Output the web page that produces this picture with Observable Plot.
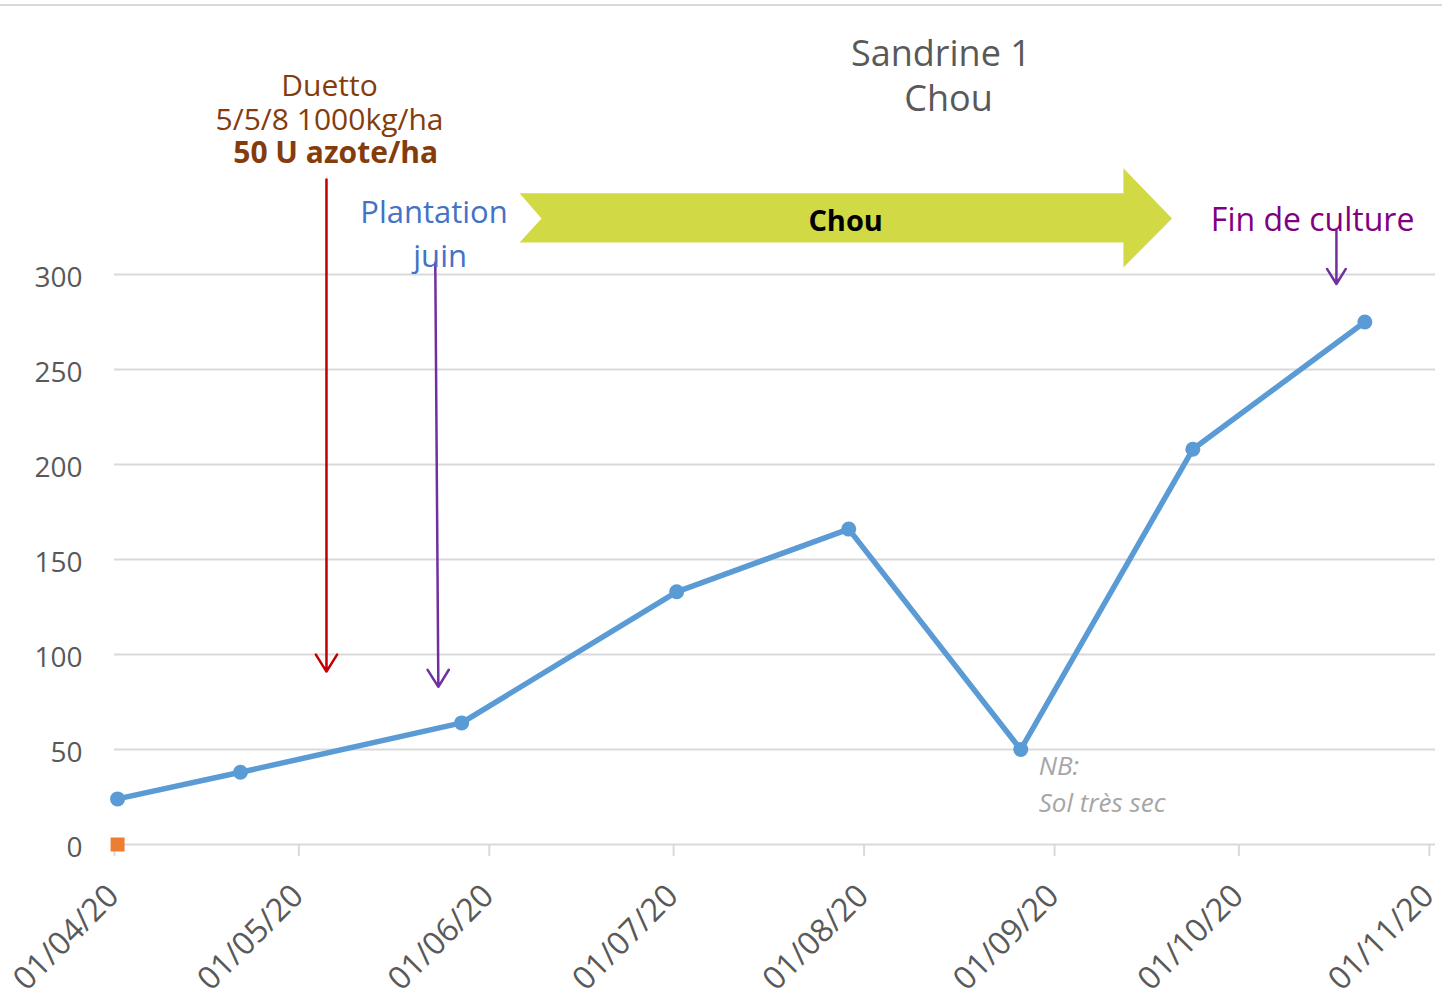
<!DOCTYPE html>
<html><head><meta charset="utf-8">
<script src="https://cdn.jsdelivr.net/npm/d3@7"></script>
<script src="https://cdn.jsdelivr.net/npm/@observablehq/plot@0.6"></script>
<style>
body{margin:0;background:#fff;font-family:"Open Sans",sans-serif;}
#wrap{position:relative;width:1442px;height:1002px;overflow:hidden;}
#topline{position:absolute;left:0;top:4px;width:1442px;height:2px;background:#d9d9d9;}
#chart{position:absolute;left:0;top:0;}
</style></head><body>
<div id="wrap"><div id="topline"></div><div id="chart"></div></div>
<script>
// Series 1 (blue line with dots)
const sampleDates = ["2020-04-01","2020-04-21","2020-05-27","2020-07-01","2020-07-29","2020-08-26","2020-09-23","2020-10-21"];
const sampleValues = [24, 38, 64, 133, 166, 50, 208, 275];
// Series 2 (orange square)
const series2Dates = ["2020-04-01"];
const series2Values = [0];
// Axis ticks
const xTickDates = ["2020-04-01","2020-05-01","2020-06-01","2020-07-01","2020-08-01","2020-09-01","2020-10-01","2020-11-01"];
const yTickValues = [0, 50, 100, 150, 200, 250, 300];
const xDomain = ["2020-04-01", "2020-11-02"];
const yDomain = [0, 300];

// Annotation texts
const titleLine1 = [{date: "2020-08-13T12:00", value: 410, text: "Sandrine 1"}];
const titleLine2 = [{date: "2020-08-14T18:00", value: 386, text: "Chou"}];
const duettoLines = [
  {date: "2020-05-06", value: 394, text: "Duetto"},
  {date: "2020-05-06", value: 376, text: "5/5/8 1000kg/ha"}
];
const duettoBold = [{date: "2020-05-07", value: 358.5, text: "50 U azote/ha"}];
const plantationLines = [
  {date: "2020-05-23", value: 327, text: "Plantation"},
  {date: "2020-05-24", value: 304, text: "juin"}
];
const chouLabel = [{date: "2020-07-29", value: 323, text: "Chou"}];
const finLabel = [{date: "2020-10-13", value: 323, text: "Fin de culture"}];
const nbLines = [
  {date: "2020-08-29T10:00", value: 36.5, text: "NB:"},
  {date: "2020-08-29T10:00", value: 17, text: "Sol très sec"}
];
// Arrows
const arrowRed = [{d1: "2020-05-05T12:00", v1: 350, d2: "2020-05-05T12:00", v2: 91}];
const arrowPlant = [{d1: "2020-05-23T05:00", v1: 306, d2: "2020-05-23T17:00", v2: 83}];
const arrowFin = [{d1: "2020-10-16T21:00", v1: 323, d2: "2020-10-16T21:00", v2: 295}];
// Green block arrow outline (date, value)
const chouShapeDates = ["2020-06-05T22:00","2020-09-12T05:00","2020-09-12T05:00","2020-09-20T03:00","2020-09-12T05:00","2020-09-12T05:00","2020-06-05T22:00","2020-06-09T12:00"];
const chouShapeValues = [342.7, 342.7, 355.9, 329.5, 303.7, 316.9, 316.9, 329.5];

const U = s => new Date(s.length === 10 ? s + "T00:00Z" : s + "Z");
const noon = s => new Date(s + "T12:00Z");

const series1 = sampleDates.map((d, i) => ({date: noon(d), value: sampleValues[i]}));
const series2 = series2Dates.map((d, i) => ({date: noon(d), value: series2Values[i]}));
const shape = chouShapeDates.map((d, i) => ({date: U(d), value: chouShapeValues[i]}));
const prep = arr => arr.map(o => ({...o, date: U(o.date)}));
const prepA = arr => arr.map(o => ({x1: U(o.d1), y1: o.v1, x2: U(o.d2), y2: o.v2}));
const fmt = d3.utcFormat("%d/%m/%y");

const arrowOpts = {x1: "x1", y1: "y1", x2: "x2", y2: "y2", strokeWidth: 2.5, headLength: 12, headAngle: 64};

const chart = Plot.plot({
  width: 1442,
  height: 1002,
  marginLeft: 114,
  marginRight: 7,
  marginTop: 274,
  marginBottom: 158,
  style: {fontFamily: "Open Sans", background: "transparent"},
  x: {type: "utc", domain: xDomain.map(U)},
  y: {domain: yDomain},
  marks: [
    Plot.gridY(yTickValues, {stroke: "#d9d9d9", strokeOpacity: 1, strokeWidth: 2}),
    Plot.axisY(yTickValues, {tickSize: 0, tickPadding: 32, fontSize: 28, fill: "#595959", dy: 4, label: null}),
    Plot.axisX(xTickDates.map(U), {tickSize: 12, stroke: "#d9d9d9", strokeWidth: 2, tickFormat: () => "", label: null}),
    Plot.axisX(xTickDates.map(U), {tickSize: 0, tickPadding: 46, tickRotate: -45, tickFormat: fmt, fontSize: 32, fill: "#595959", dx: -1, label: null}),
    Plot.line(shape, {x: "date", y: "value", fill: "#D1DA45", stroke: "none", curve: "linear-closed"}),
    Plot.line(series1, {x: "date", y: "value", stroke: "#5B9BD5", strokeWidth: 5.5}),
    Plot.dot(series1, {x: "date", y: "value", r: 7.5, fill: "#5B9BD5"}),
    Plot.dot(series2, {x: "date", y: "value", symbol: "square", r: 7.9, fill: "#ED7D31"}),
    Plot.arrow(prepA(arrowRed), {...arrowOpts, stroke: "#C00000"}),
    Plot.arrow(prepA(arrowPlant), {...arrowOpts, stroke: "#7030A0"}),
    Plot.arrow(prepA(arrowFin), {...arrowOpts, stroke: "#7030A0"}),
    Plot.text(prep(titleLine1), {x: "date", y: "value", text: "text", fill: "#595959", fontSize: 36, lineAnchor: "bottom"}),
    Plot.text(prep(titleLine2), {x: "date", y: "value", text: "text", fill: "#595959", fontSize: 36, lineAnchor: "bottom"}),
    Plot.text(prep(duettoLines), {x: "date", y: "value", text: "text", fill: "#843C0C", fontSize: 30, lineAnchor: "bottom"}),
    Plot.text(prep(duettoBold), {x: "date", y: "value", text: "text", fill: "#843C0C", fontSize: 30, fontWeight: "bold", lineAnchor: "bottom"}),
    Plot.text(prep(plantationLines), {x: "date", y: "value", text: "text", fill: "#4472C4", fontSize: 31, lineAnchor: "bottom"}),
    Plot.text(prep(chouLabel), {x: "date", y: "value", text: "text", fill: "#000000", fontSize: 29, fontWeight: "bold", lineAnchor: "bottom"}),
    Plot.text(prep(finLabel), {x: "date", y: "value", text: "text", fill: "#800080", fontSize: 32, lineAnchor: "bottom"}),
    Plot.text(prep(nbLines), {x: "date", y: "value", text: "text", fill: "#A6A6A6", fontSize: 26, fontStyle: "italic", textAnchor: "start", lineAnchor: "bottom"})
  ]
});
document.getElementById("chart").appendChild(chart);
</script>
</body></html>
